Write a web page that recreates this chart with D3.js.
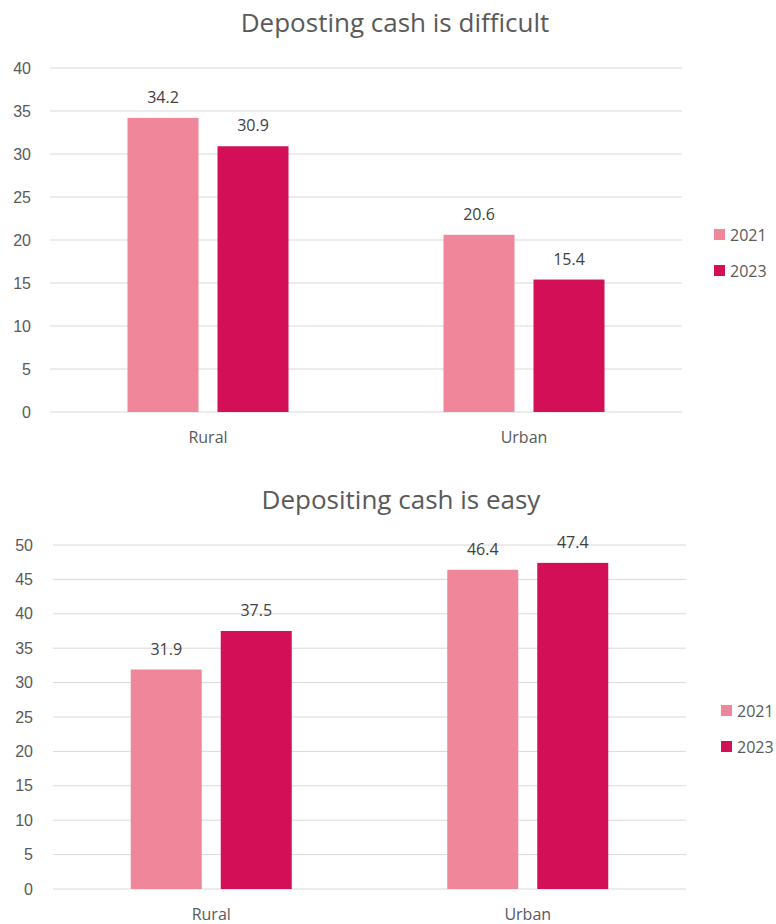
<!DOCTYPE html>
<html>
<head>
<meta charset="utf-8">
<script src="https://cdn.jsdelivr.net/npm/d3@7"></script>
<style>
  body { margin: 0; background: #fff; }
  svg { display: block; font-family: "Open Sans", "DejaVu Sans", sans-serif; }
</style>
</head>
<body>
<svg id="chart" width="776" height="924"></svg>
<script>
// data
var categories = ["Rural", "Urban"];
var years = ["2021", "2023"];
var difficultValues = [[34.2, 30.9], [20.6, 15.4]];
var easyValues = [[31.9, 37.5], [46.4, 47.4]];
var difficultTicks = [0, 5, 10, 15, 20, 25, 30, 35, 40];
var easyTicks = [0, 5, 10, 15, 20, 25, 30, 35, 40, 45, 50];
var colors = ["#F0869A", "#D20F57"];

var svg = d3.select("#chart");

function drawChart(cfg) {
    var g = svg.append("g");

    var x = d3.scaleBand().domain(categories).range([cfg.left, cfg.right]);
    var y = d3.scaleLinear().domain([0, cfg.max]).range([cfg.bottom, cfg.top]);
    var barW = 71, gap = 19;

    g.append("text")
        .attr("x", cfg.titleX).attr("y", cfg.titleY)
        .attr("text-anchor", "middle")
        .style("font-size", "26px").style("fill", "#595959")
        .text(cfg.title);

    // gridlines
    g.selectAll("line.grid").data(cfg.ticks).enter().append("line")
        .attr("x1", cfg.left).attr("x2", cfg.right)
        .attr("y1", function (d) { return y(d); })
        .attr("y2", function (d) { return y(d); })
        .attr("stroke", "#d9d9d9").attr("stroke-width", 1);

    var yAxis = d3.axisLeft(y).tickValues(cfg.ticks).tickSize(0).tickPadding(0);
    var ax = g.append("g").attr("transform", "translate(" + cfg.labelX + ",0)").call(yAxis);
    ax.select(".domain").remove();
    ax.selectAll("text").style("font-size", "16px").style("fill", "#595959")
        .style("font-family", "inherit");

    var groups = g.selectAll("g.cat").data(categories).enter().append("g");
    groups.each(function (cat, ci) {
        var grp = d3.select(this);
        var cx = x(cat) + x.bandwidth() / 2;
        var vals = cfg.values[ci];
        vals.forEach(function (v, i) {
            var bx = cx - barW - gap / 2 + i * (barW + gap);
            grp.append("rect")
                .attr("x", bx).attr("y", y(v))
                .attr("width", barW).attr("height", y(0) - y(v))
                .attr("fill", colors[i]);
            grp.append("text")
                .attr("x", bx + barW / 2).attr("y", y(v) - 15)
                .attr("text-anchor", "middle")
                .style("font-size", "16px").style("fill", "#404040")
                .text(v);
        });
        grp.append("text")
            .attr("x", cx).attr("y", cfg.catY)
            .attr("text-anchor", "middle")
            .style("font-size", "16px").style("fill", "#595959")
            .text(cat);
    });

    // legend
    years.forEach(function (yr, i) {
        g.append("rect")
            .attr("x", cfg.legendX).attr("y", cfg.legendY + i * 36 - 6)
            .attr("width", 11).attr("height", 11)
            .attr("fill", colors[i]);
        g.append("text")
            .attr("x", cfg.legendX + 16).attr("y", cfg.legendY + i * 36 + 6)
            .style("font-size", "16px").style("fill", "#595959")
            .text(yr);
    });
}

drawChart({
    title: "Deposting cash is difficult", titleX: 395, titleY: 32,
    values: difficultValues, ticks: difficultTicks, max: 40,
    left: 50, right: 682, top: 68, bottom: 412, labelX: 31,
    catY: 443, legendX: 714, legendY: 235
});

drawChart({
    title: "Depositing cash is easy", titleX: 401, titleY: 509,
    values: easyValues, ticks: easyTicks, max: 50,
    left: 53, right: 686, top: 545, bottom: 889, labelX: 33,
    catY: 920, legendX: 721, legendY: 711
});
</script>
</body>
</html>
